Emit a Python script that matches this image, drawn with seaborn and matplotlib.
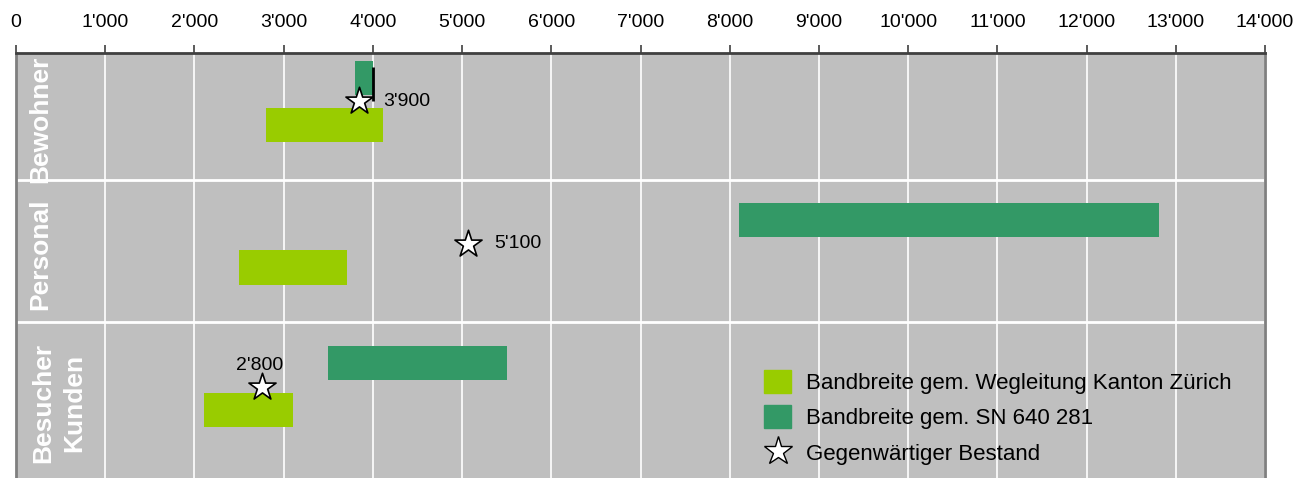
import matplotlib
matplotlib.use('Agg')
import matplotlib.pyplot as plt
import matplotlib.patches as mpatches
from matplotlib.lines import Line2D
import seaborn as sns

# data
groups = ['Bewohner', 'Personal', 'Besucher\nKunden']
kanton_lo = [2800, 2500, 2110]
kanton_hi = [4110, 3710, 3100]
sn_lo = [3800, 8100, 3500]
sn_hi = [4000, 12810, 5500]
bestand = [3850, 5070, 2760]
bestand_labels = ["3'900", "5'100", "2'800"]
xticks = list(range(0, 14001, 1000))
xtick_labels = [f"{t:,}".replace(',', "'") for t in xticks]

light = '#99CC00'
dark = '#339966'

sns.set_style('white', {'axes.facecolor': '#BFBFBF', 'text.color': 'black',
                        'xtick.color': 'black'})
plt.rcParams['font.family'] = ['Liberation Sans', 'DejaVu Sans']

fig = plt.figure(figsize=(13.13, 4.78), dpi=100)
ax = fig.add_axes([16/1313, 0, 1249/1313, 1 - 53/478])

rows = list(range(len(groups)))
bar_h = 0.239
off = 0.165

# vertical grid
for t in xticks:
    ax.axvline(t, color='white', lw=1.2, zorder=0)
# row separators
for r in rows[:-1]:
    ax.axhline(r + 0.55, color='white', lw=2, zorder=0)

ax.barh([r - off for r in rows], [h - l for l, h in zip(sn_lo, sn_hi)],
        left=sn_lo, height=bar_h, color=dark, linewidth=0, zorder=2)
ax.barh([r + off for r in rows], [h - l for l, h in zip(kanton_lo, kanton_hi)],
        left=kanton_lo, height=bar_h, color=light, linewidth=0, zorder=2)

# black marker line in first row
ax.vlines(sn_hi[0], -0.24, 0.0, color='black', lw=2, zorder=3)

sns.scatterplot(x=bestand, y=rows, marker='*', s=420, color='white',
                edgecolor='black', linewidth=1.2, zorder=5, ax=ax, legend=False)

ax.annotate(bestand_labels[0], (bestand[0], rows[0]), xytext=(17, 0),
            textcoords='offset points', va='center', ha='left', fontsize=14)
ax.annotate(bestand_labels[1], (bestand[1], rows[1]), xytext=(19, 0),
            textcoords='offset points', va='center', ha='left', fontsize=14)
ax.annotate(bestand_labels[2], (bestand[2], rows[2]), xytext=(-2, 15),
            textcoords='offset points', va='center', ha='center', fontsize=14)

ax.set_xlim(0, 14000)
ax.set_ylim(2.642, -0.34)

# group labels centered in visible bands
edges = [-0.34, 0.55, 1.55, 2.642]
trans = ax.get_yaxis_transform()
label_x = [0.0192, 0.0192, 0.0342]
for i, g in enumerate(groups):
    ax.text(label_x[i], (edges[i] + edges[i + 1]) / 2 + 0.02, g, transform=trans,
            rotation=90, ha='center', va='center', color='white',
            fontsize=19, fontweight='bold', linespacing=1.35, zorder=4)

ax.xaxis.tick_top()
ax.set_xticks(xticks)
ax.set_xticklabels(xtick_labels, fontsize=14)
ax.tick_params(axis='x', direction='out', length=6, width=1.2, color='#404040', pad=10)
ax.set_yticks([])

for s in ['left', 'right']:
    ax.spines[s].set_color('#7F7F7F')
    ax.spines[s].set_linewidth(2)
ax.spines['top'].set_color('#404040')
ax.spines['top'].set_linewidth(2)
ax.spines['bottom'].set_visible(False)

handles = [
    mpatches.Patch(color=light, label='Bandbreite gem. Wegleitung Kanton Zürich'),
    mpatches.Patch(color=dark, label='Bandbreite gem. SN 640 281'),
    Line2D([], [], marker='*', color='none', markerfacecolor='white',
           markeredgecolor='black', markersize=21, label='Gegenwärtiger Bestand'),
]
ax.legend(handles=handles, loc='upper left', bbox_to_anchor=(0.599, 0.255),
          frameon=False, fontsize=16, handlelength=1.22, handleheight=1.22,
          handletextpad=0.68, labelspacing=0.53, borderpad=0, borderaxespad=0)

fig.savefig('out.png', dpi=100)
